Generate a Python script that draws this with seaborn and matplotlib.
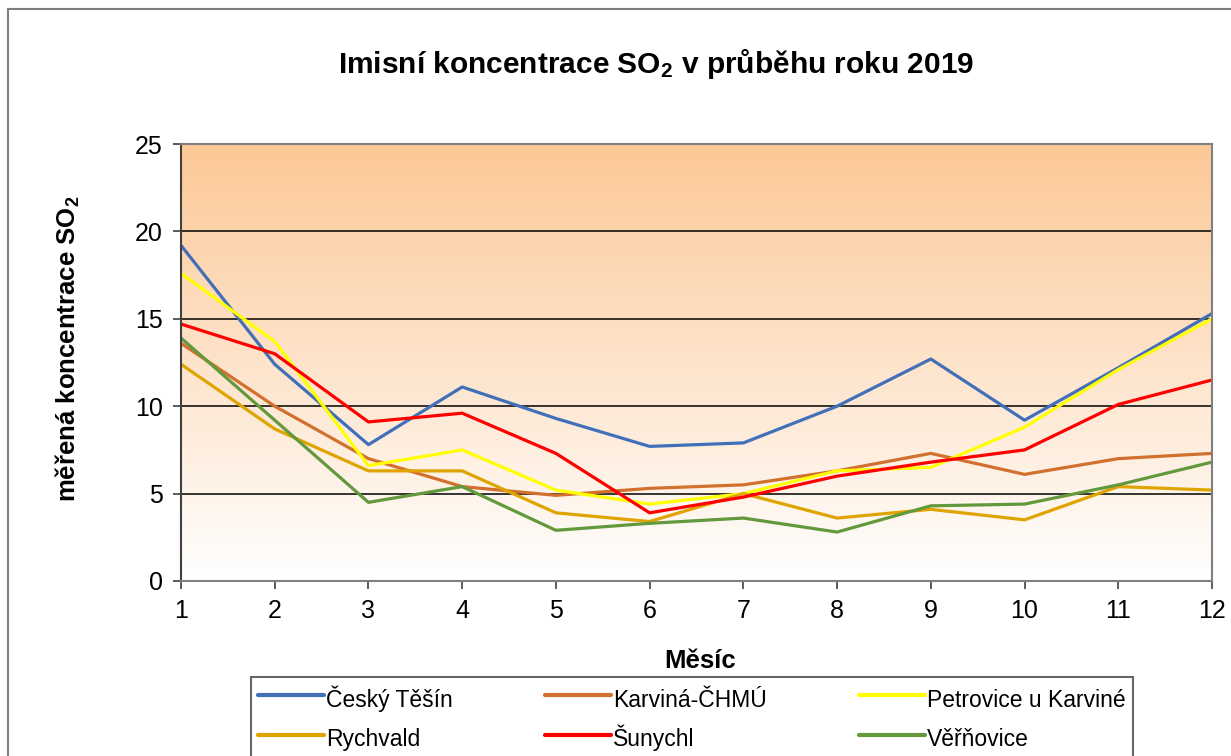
import numpy as np
import pandas as pd
import matplotlib
matplotlib.use("Agg")
import matplotlib.pyplot as plt
import seaborn as sns
from matplotlib.patches import Rectangle

# values (monthly SO2, 2019)
months = list(range(1, 13))
cesky_tesin = [19.2, 12.4, 7.8, 11.1, 9.3, 7.7, 7.9, 10.0, 12.7, 9.2, 12.2, 15.3]
karvina_chmu = [13.6, 10.0, 7.0, 5.4, 4.9, 5.3, 5.5, 6.3, 7.3, 6.1, 7.0, 7.3]
petrovice = [17.6, 13.7, 6.6, 7.5, 5.2, 4.4, 5.0, 6.3, 6.5, 8.8, 12.1, 15.0]
rychvald = [12.4, 8.7, 6.3, 6.3, 3.9, 3.4, 5.0, 3.6, 4.1, 3.5, 5.4, 5.2]
sunychl = [14.7, 13.0, 9.1, 9.6, 7.3, 3.9, 4.8, 6.0, 6.8, 7.5, 10.1, 11.5]
verrnovice = [13.9, 9.2, 4.5, 5.4, 2.9, 3.3, 3.6, 2.8, 4.3, 4.4, 5.5, 6.8]

stations = ["Český Těšín", "Karviná-ČHMÚ", "Petrovice u Karviné",
            "Rychvald", "Šunychl", "Věřňovice"]
series = [cesky_tesin, karvina_chmu, petrovice, rychvald, sunychl, verrnovice]
colors = ["#4170B9", "#D2702E", "#FFFF00", "#E0A400", "#FF0000", "#62993C"]

df = pd.DataFrame({
    "Měsíc": months * len(stations),
    "hodnota": [v for s in series for v in s],
    "stanice": [name for name in stations for _ in months],
})

sns.set_theme(style="white")
plt.rcParams["font.family"] = ["Liberation Sans", "DejaVu Sans"]
plt.rcParams["text.color"] = "black"
plt.rcParams["mathtext.fontset"] = "custom"
plt.rcParams["mathtext.rm"] = "Liberation Sans"
plt.rcParams["mathtext.bf"] = "Liberation Sans:bold"

fig = plt.figure(figsize=(12.31, 7.56), dpi=100)
ax = fig.add_axes([181 / 1231, 1 - 581 / 756, (1212 - 181) / 1231, (581 - 144) / 756])

# gradient background of the plot area (peach at top -> white at bottom)
top = np.array([252, 200, 150]) / 255
bot = np.array([255, 255, 255]) / 255
t = np.linspace(0, 1, 256)[:, None]
grad = (top * (1 - t) + bot * t)[:, None, :]
ax.imshow(grad, extent=[0, 1, 0, 1], transform=ax.transAxes, aspect="auto", zorder=0)

for yv in [5, 10, 15, 20, 25]:
    ax.axhline(yv, color="black", lw=1.1, zorder=1)

sns.lineplot(data=df, x="Měsíc", y="hodnota", hue="stanice", hue_order=stations,
             palette=colors, lw=2.3, ax=ax, legend=True, zorder=3)

ax.set_xlim(1, 12)
ax.set_ylim(0, 25)
ax.set_xticks(months)
ax.set_yticks([0, 5, 10, 15, 20, 25])
ax.tick_params(axis="both", direction="out", length=6, width=1.2, color="#404040",
               labelsize=18, labelcolor="black", pad=7, bottom=True, left=True)
for side in ["left", "bottom", "right", "top"]:
    ax.spines[side].set_color("#808080")
    ax.spines[side].set_linewidth(1.5)
    ax.spines[side].set_zorder(4)
ax.spines["left"].set_color("#404040")

ax.set_xlabel("")
ax.set_ylabel("")
fig.text(68 / 1231, 1 - 349 / 756, r"měřená koncentrace $\mathbf{SO_2}$", fontsize=18.5,
         fontweight="bold", rotation=90, ha="center", va="center")
fig.text(700 / 1231, 1 - 661 / 756, "Měsíc", fontsize=18.5, fontweight="bold",
         ha="center", va="center")
fig.text(656 / 1231, 1 - 64 / 756, r"Imisní koncentrace $\mathbf{SO_2}$ v průběhu roku 2019",
         fontsize=21.5, fontweight="bold", ha="center", va="center")

# legend is filled column by column, so reorder to get the row order of the reference
handles, labels = ax.get_legend_handles_labels()
ax.get_legend().remove()
order = [0, 3, 1, 4, 2, 5]
handles = [handles[i] for i in order]
labels = [labels[i] for i in order]
leg_top = 1 - 677 / 756
# tall handle boxes keep rows level even when labels carry capital carons
leg = fig.legend(handles, labels, loc="upper left", ncol=3,
                 bbox_to_anchor=(251 / 1231, leg_top - 0.1, (1133 - 251) / 1231, 0.1),
                 mode="expand", fontsize=16.5, frameon=True, fancybox=False,
                 edgecolor="#404040", handlelength=2.85, handleheight=1.6,
                 handletextpad=0.1, borderpad=0.32, labelspacing=0.42, borderaxespad=0)
leg.get_frame().set_linewidth(1.5)
for line in leg.get_lines():
    line.set_linewidth(3)

# outer chart border (left and top are visible in the crop)
fig.add_artist(Rectangle((8 / 1231, -0.05), 1.2, 1 - 9 / 756 + 0.05,
                         transform=fig.transFigure, fill=False,
                         edgecolor="#7f7f7f", lw=1.5))

fig.savefig("out.png", dpi=100)
